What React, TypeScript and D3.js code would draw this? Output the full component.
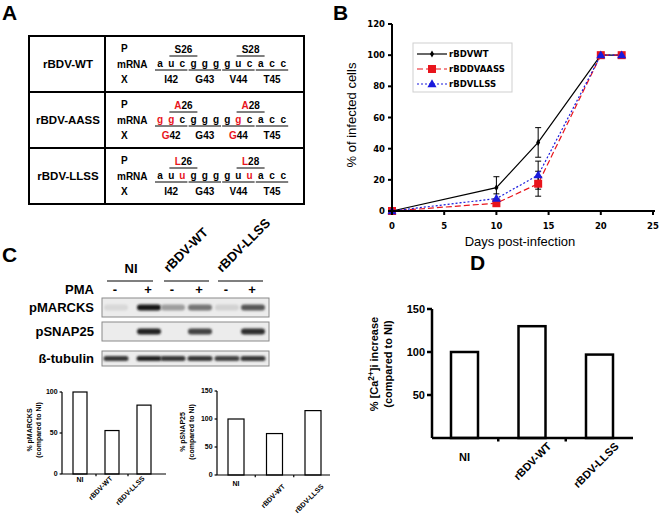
import React from 'react';
import * as d3 from 'd3';

// ---------- Panel A data ----------
const strainNames = ['rBDV-WT', 'rBDV-AASS', 'rBDV-LLSS'];
const mrnaSeqs = ['aucggggucacc', 'ggcgggggcacc', 'auugggguuacc'];
const mrnaRed = [[], [0, 1, 7], [2, 8]];
const pAA = [['S', 'S'], ['A', 'A'], ['L', 'L']];
const pNums = ['26', '28'];
const pRed = [false, true, true];
const xAA = [['I', 'G', 'V', 'T'], ['G', 'G', 'G', 'T'], ['I', 'G', 'V', 'T']];
const xRed = [[false, false, false, false], [true, false, true, false], [false, false, false, false]];
const xNums = ['42', '43', '44', '45'];

// ---------- Panel B data ----------
const days = [0, 10, 14, 20, 22];
const wtVals = [0, 15, 44, 100, 100];
const wtErr = [0, 7, 9.5, 0, 0];
const aassVals = [0, 5, 17.5, 100, 100];
const aassErr = [0, 2, 8, 0, 0];
const llssVals = [0, 8, 23, 100, 100];
const llssErr = [0, 3, 9, 0, 0];
const seriesNames = ['rBDVWT', 'rBDDVAASS', 'rBDVLLSS'];
const yTicksB = [0, 20, 40, 60, 80, 100, 120];
const xTicksB = [0, 5, 10, 15, 20, 25];

// ---------- Panel C data ----------
const groupsC = ['NI', 'rBDV-WT', 'rBDV-LLSS'];
const pmaSigns = ['-', '+', '-', '+', '-', '+'];
const blotRows = ['pMARCKS', 'pSNAP25', 'ß-tubulin'];
const pmarcksBands = [0.07, 1.0, 0.35, 0.55, 0.1, 0.7];
const psnapBands = [0, 0.95, 0, 0.8, 0, 0.9];
const tubulinBands = [0.85, 0.95, 0.85, 0.85, 0.8, 0.85];
const pmarcksPct = [100, 53, 84];
const psnapPct = [100, 74, 115];
const yTicksC1 = [0, 50, 100];
const yTicksC2 = [0, 50, 100, 150];

// ---------- Panel D data ----------
const caPct = [100, 130, 97];
const yTicksD = [50, 100, 150];

const AR = 'Liberation Sans, Arial, sans-serif';
const DV = 'DejaVu Sans, Verdana, sans-serif';

function PanelA() {
  const x0 = 29, x1 = 304, xDiv = 105, top = 36, rowH = 56;
  const lx = d3.scaleLinear().domain([0, 11]).range([160, 283.2]);
  return (
    <g>
      <text x={2} y={20} fontFamily={AR} fontWeight="bold" fontSize={21}>A</text>
      <rect x={x0} y={top} width={x1 - x0} height={rowH * 3} fill="none" stroke="#000" strokeWidth={2} />
      <line x1={xDiv} x2={xDiv} y1={top} y2={top + rowH * 3} stroke="#000" strokeWidth={2} />
      {[1, 2].map(i => (
        <line key={i} x1={x0} x2={x1} y1={top + rowH * i} y2={top + rowH * i} stroke="#000" strokeWidth={2} />
      ))}
      {strainNames.map((name, r) => {
        const y = top + rowH * r;
        return (
          <g key={name} fontFamily={AR} fontWeight="bold">
            <text x={68} y={y + 32} fontSize={11.5} textAnchor="middle">{name}</text>
            <text x={121} y={y + 16} fontSize={10}>P</text>
            <text x={117} y={y + 32} fontSize={10}>mRNA</text>
            <text x={121} y={y + 47} fontSize={10}>X</text>
            {mrnaSeqs[r].split('').map((ch, k) => (
              <text key={k} x={lx(k)} y={y + 31} fontSize={10} textAnchor="middle"
                fill={mrnaRed[r].includes(k) ? '#e8141c' : '#000'}>{ch}</text>
            ))}
            {[0, 1, 2, 3].map(c => (
              <line key={'u' + c} x1={lx(3 * c) - 5} x2={lx(3 * c + 2) + 5} y1={y + 34} y2={y + 34} stroke="#000" strokeWidth={1} />
            ))}
            {[0, 1].map(j => {
              const cx = (lx(1 + 6 * j) + lx(3 + 6 * j)) / 2 + 1;
              return (
                <g key={'p' + j}>
                  <text x={cx} y={y + 17} fontSize={10} textAnchor="middle">
                    <tspan fill={pRed[r] ? '#e8141c' : '#000'}>{pAA[r][j]}</tspan>
                    <tspan>{pNums[j]}</tspan>
                  </text>
                  <line x1={cx - 14} x2={cx + 14} y1={y + 20} y2={y + 20} stroke="#000" strokeWidth={1} />
                </g>
              );
            })}
            {[0, 1, 2, 3].map(c => (
              <text key={'x' + c} x={lx(3 * c + 1)} y={y + 47} fontSize={10} textAnchor="middle">
                <tspan fill={xRed[r][c] ? '#e8141c' : '#000'}>{xAA[r][c]}</tspan>
                <tspan>{xNums[c]}</tspan>
              </text>
            ))}
          </g>
        );
      })}
    </g>
  );
}

function PanelB() {
  const x = d3.scaleLinear().domain([0, 25]).range([392, 653]);
  const y = d3.scaleLinear().domain([0, 120]).range([211, 24]);
  const line = d3.line<number>().x((_, i) => x(days[i])).y(d => y(d));
  const series = [
    { vals: wtVals, err: wtErr, color: '#000', dash: '', marker: 'diamond' },
    { vals: aassVals, err: aassErr, color: '#e8141c', dash: '6,3', marker: 'square' },
    { vals: llssVals, err: llssErr, color: '#1a1adc', dash: '2,2', marker: 'triangle' },
  ];
  const marker = (type: string, cx: number, cy: number, color: string, key: string) => {
    if (type === 'diamond') {
      const s = d3.symbol(d3.symbolDiamond, 14)();
      return <path key={key} d={s!} transform={`translate(${cx},${cy})`} fill={color} />;
    }
    if (type === 'square') return <rect key={key} x={cx - 4} y={cy - 4} width={8} height={8} fill={color} />;
    const t = d3.symbol(d3.symbolTriangle, 36)();
    return <path key={key} d={t!} transform={`translate(${cx},${cy + 0.5})`} fill={color} />;
  };
  return (
    <g>
      <text x={333} y={20} fontFamily={AR} fontWeight="bold" fontSize={21}>B</text>
      {series.map((s, si) => s.vals.map((v, i) => s.err[i] > 0 ? (
        <g key={si + '-' + i} stroke="#000" strokeWidth={1}>
          <line x1={x(days[i])} x2={x(days[i])} y1={y(v - s.err[i])} y2={y(v + s.err[i])} />
          <line x1={x(days[i]) - 3} x2={x(days[i]) + 3} y1={y(v - s.err[i])} y2={y(v - s.err[i])} />
          <line x1={x(days[i]) - 3} x2={x(days[i]) + 3} y1={y(v + s.err[i])} y2={y(v + s.err[i])} />
        </g>
      ) : null))}
      {series.map((s, si) => (
        <path key={'l' + si} d={line(s.vals)!} fill="none" stroke={s.color} strokeWidth={1.2} strokeDasharray={s.dash} />
      ))}
      {series.map((s, si) => s.vals.map((v, i) => marker(s.marker, x(days[i]), y(v), s.color, 'm' + si + i)))}
      <line x1={x(0)} x2={x(25) + 2} y1={y(0)} y2={y(0)} stroke="#000" strokeWidth={2} />
      <line x1={x(0)} x2={x(0)} y1={y(0) + 1} y2={y(120)} stroke="#000" strokeWidth={2} />
      {yTicksB.map(t => (
        <g key={'yt' + t}>
          <line x1={x(0) - 4} x2={x(0)} y1={y(t)} y2={y(t)} stroke="#000" strokeWidth={2} />
          <text x={x(0) - 7} y={y(t) + 3} textAnchor="end" fontFamily={DV} fontWeight="bold" fontSize={8.5}>{t}</text>
        </g>
      ))}
      {xTicksB.map(t => (
        <g key={'xt' + t}>
          <line x1={x(t)} x2={x(t)} y1={y(0)} y2={y(0) + 4} stroke="#000" strokeWidth={2} />
          <text x={x(t)} y={y(0) + 18} textAnchor="middle" fontFamily={DV} fontWeight="bold" fontSize={8.5}>{t}</text>
        </g>
      ))}
      <text x={520} y={246} textAnchor="middle" fontFamily={AR} fontSize={13}>Days post-infection</text>
      <text transform={`translate(356,115) rotate(-90)`} textAnchor="middle" fontFamily={AR} fontSize={13}>% of infected cells</text>
      <rect x={413} y={43} width={99} height={49} fill="#fff" stroke="#cfcfcf" strokeWidth={1} />
      {series.map((s, si) => {
        const ly = 54 + si * 15;
        return (
          <g key={'lg' + si}>
            <line x1={417} x2={447} y1={ly} y2={ly} stroke={s.color} strokeWidth={1.2} strokeDasharray={s.dash} />
            {marker(s.marker, 432, ly, s.color, 'lm' + si)}
            <text x={449} y={ly + 3} fontFamily={DV} fontWeight="bold" fontSize={8.5}>{seriesNames[si]}</text>
          </g>
        );
      })}
    </g>
  );
}

function Band({ cx, cy, w, h, v }: { cx: number; cy: number; w: number; h: number; v: number }) {
  if (v <= 0) return null;
  const g = Math.round(230 - v * 205);
  return <rect x={cx - w / 2} y={cy - h / 2} width={w} height={h} rx={h / 2} fill={`rgb(${g},${g},${g})`} filter="url(#blur)" />;
}

function SmallBars({ vals, ticks, yMax, y0, y1, xAxis0, xAxis1, c0, c1, bw, labelX, labelY, fs, sw, lab1, lab2, catY, rotY, rotDx, labSup }: any) {
  const y = d3.scaleLinear().domain([0, yMax]).range([y0, y1]);
  const xc = d3.scalePoint<string>().domain(groupsC).range([c0, c1]);
  const step = xc.step();
  return (
    <g fontFamily={AR} fontWeight="bold">
      {vals.map((v: number, i: number) => (
        <rect key={i} x={xc(groupsC[i])! - bw / 2} y={y(v)} width={bw} height={y(0) - y(v)} fill="#fff" stroke="#000" strokeWidth={sw} />
      ))}
      <line x1={xAxis0} x2={xAxis1} y1={y(0)} y2={y(0)} stroke="#000" strokeWidth={sw} />
      <line x1={xAxis0} x2={xAxis0} y1={y(0)} y2={y(yMax)} stroke="#000" strokeWidth={sw} />
      {[0, 1].map(i => (
        <line key={'tk' + i} x1={c0 + step * (i + 0.5)} x2={c0 + step * (i + 0.5)} y1={y(0)} y2={y(0) + sw + 1} stroke="#000" strokeWidth={sw} />
      ))}
      {ticks.map((t: number) => (
        <g key={t}>
          <line x1={xAxis0 - sw * 2} x2={xAxis0} y1={y(t)} y2={y(t)} stroke="#000" strokeWidth={sw} />
          <text x={xAxis0 - sw * 2 - 2} y={y(t) + fs * 0.35} textAnchor="end" fontSize={fs}>{t}</text>
        </g>
      ))}
      <text x={xc('NI')} y={catY} textAnchor="middle" fontSize={fs}>NI</text>
      {groupsC.slice(1).map(g => (
        <text key={g} transform={`translate(${xc(g)! + rotDx},${rotY}) rotate(-45)`} textAnchor="end" fontSize={fs}>{g}</text>
      ))}
      <text transform={`translate(${labelX},${labelY}) rotate(-90)`} textAnchor="middle" fontSize={fs}>
        {labSup ? (<>
          <tspan>% [Ca</tspan><tspan dy={-fs * 0.4} fontSize={fs * 0.75}>2+</tspan><tspan dy={fs * 0.4}>]i increase</tspan>
        </>) : lab1}
      </text>
      <text transform={`translate(${labelX + fs * 1.25},${labelY}) rotate(-90)`} textAnchor="middle" fontSize={fs}>{lab2}</text>
    </g>
  );
}

function PanelC() {
  const laneX = d3.scaleOrdinal<number, number>().domain([0, 1, 2, 3, 4, 5]).range([115, 148, 172, 199, 226, 252]);
  const groupLines = [[107, 153], [164, 209], [218, 263]];
  const boxes = [
    { y: 298, h: 19, bands: pmarcksBands, bh: 6, bw: 24 },
    { y: 322, h: 19, bands: psnapBands, bh: 6, bw: 24 },
    { y: 351, h: 15, bands: tubulinBands, bh: 5, bw: 25 },
  ];
  return (
    <g fontFamily={AR} fontWeight="bold">
      <text x={2} y={262} fontSize={21}>C</text>
      <text x={131} y={273} textAnchor="middle" fontSize={13}>NI</text>
      <text transform="translate(169,273) rotate(-45)" fontSize={13}>rBDV-WT</text>
      <text transform="translate(222,273) rotate(-45)" fontSize={13}>rBDV-LLSS</text>
      {groupLines.map((g, i) => (
        <line key={i} x1={g[0]} x2={g[1]} y1={281} y2={281} stroke="#000" strokeWidth={1.2} />
      ))}
      <text x={94} y={294} textAnchor="end" fontSize={13}>PMA</text>
      {pmaSigns.map((s, i) => (
        <text key={i} x={laneX(i)} y={294} textAnchor="middle" fontSize={13}>{s}</text>
      ))}
      {boxes.map((b, bi) => (
        <g key={bi}>
          <text x={94} y={b.y + b.h / 2 + 4.5} textAnchor="end" fontSize={13}>{blotRows[bi]}</text>
          <rect x={102} y={b.y} width={167} height={b.h} fill="#ececec" stroke="#8a8a8a" strokeWidth={1} />
          {b.bands.map((v, i) => (
            <Band key={i} cx={laneX(i) + 1} cy={b.y + b.h / 2} w={b.bw} h={b.bh} v={v} />
          ))}
        </g>
      ))}
      <SmallBars vals={pmarcksPct} ticks={yTicksC1} yMax={100} y0={474} y1={392} xAxis0={62} xAxis1={166}
        c0={80} c1={144} bw={14} labelX={32} labelY={430} fs={7} sw={1.2}
        lab1="% pMARCKS" lab2="(compared to NI)" catY={482} rotY={479} rotDx={1} />
      <SmallBars vals={psnapPct} ticks={yTicksC2} yMax={150} y0={475} y1={391} xAxis0={217} xAxis1={330}
        c0={236} c1={313} bw={16} labelX={185} labelY={432} fs={7} sw={1.2}
        lab1="% pSNAP25" lab2="(compared to NI)" catY={486} rotY={487} rotDx={11} />
    </g>
  );
}

function PanelD() {
  return (
    <g>
      <text x={470} y={270} fontFamily={AR} fontWeight="bold" fontSize={21}>D</text>
      <SmallBars vals={caPct} ticks={yTicksD} yMax={150} y0={438} y1={309} xAxis0={432} xAxis1={633}
        c0={464.5} c1={599.5} bw={27} labelX={378} labelY={364} fs={11} sw={2.5}
        labSup lab2="(compared to NI)" catY={461} rotY={447} rotDx={20} />
    </g>
  );
}

export default function App() {
  return (
    <svg width={661} height={514} style={{ position: 'absolute', left: 0, top: 0, background: '#fff' }}>
      <defs>
        <filter id="blur" x="-30%" y="-80%" width="160%" height="260%">
          <feGaussianBlur stdDeviation="1.1" />
        </filter>
      </defs>
      <rect width={661} height={514} fill="#fff" />
      <PanelA />
      <PanelB />
      <PanelC />
      <PanelD />
    </svg>
  );
}
